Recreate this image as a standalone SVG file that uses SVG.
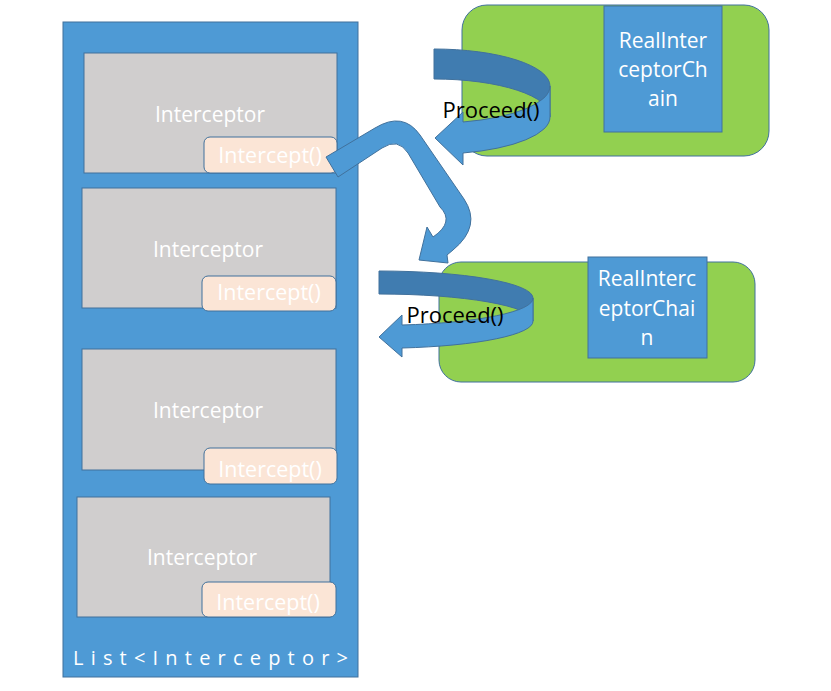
<svg xmlns="http://www.w3.org/2000/svg" width="831" height="691" viewBox="0 0 831 691">
<style>
.blue{fill:#4e9ad5;stroke:#41719c;stroke-width:1}
.back{fill:#407cb0;stroke:#41719c;stroke-width:1}
.gray{fill:#d0cece;stroke:#41719c;stroke-width:1}
.peach{fill:#fbe5d6;stroke:#41719c;stroke-width:1}
.green{fill:#92d050;stroke:#41719c;stroke-width:1}
text{font-family:"Open Sans","Liberation Sans",sans-serif;text-anchor:middle}
.t{fill:#ffffff;font-size:21px}
.ti{fill:#ffffff;font-size:21.5px}
.tl{fill:#ffffff;font-size:20px;text-anchor:start;letter-spacing:7.2px}
.tc{fill:#ffffff;font-size:21px}
.tp{fill:#000000;font-size:22px}
</style>
<rect width="831" height="691" fill="#ffffff"/>
<g id="interceptor-list">
<rect class="blue" x="63" y="22" width="295" height="655"/>
<text class="tl" x="73" y="665">List&lt;Interceptor&gt;</text>
</g>
<g id="interceptor-1">
<rect class="gray" x="84" y="53" width="253" height="120"/>
<text class="t" x="210" y="122">Interceptor</text>
<rect class="peach" x="204" y="137" width="133" height="36" rx="6"/>
<text class="ti" x="270" y="163">Intercept()</text>
</g>
<g id="interceptor-2">
<rect class="gray" x="82" y="188" width="254" height="120"/>
<text class="t" x="208" y="257">Interceptor</text>
<rect class="peach" x="202" y="276" width="134" height="35" rx="6"/>
<text class="ti" x="269" y="300">Intercept()</text>
</g>
<g id="interceptor-3">
<rect class="gray" x="82" y="349" width="254" height="121"/>
<text class="t" x="208" y="418">Interceptor</text>
<rect class="peach" x="204" y="448" width="133" height="36" rx="6"/>
<text class="ti" x="270" y="477">Intercept()</text>
</g>
<g id="interceptor-4">
<rect class="gray" x="77" y="497" width="253" height="120"/>
<text class="t" x="202" y="565">Interceptor</text>
<rect class="peach" x="202" y="582" width="134" height="35" rx="6"/>
<text class="ti" x="268" y="610">Intercept()</text>
</g>
<g id="chain-1">
<rect class="green" x="462" y="5" width="307" height="151" rx="25"/>
<rect class="blue" x="604" y="6" width="118" height="126"/>
<text class="tc" x="663" y="48">RealInter</text>
<text class="tc" x="663" y="77">ceptorCh</text>
<text class="tc" x="663" y="106">ain</text>
</g>
<g id="chain-2">
<rect class="green" x="439" y="262" width="316" height="120" rx="22"/>
<rect class="blue" x="588" y="257" width="119" height="101"/>
<text class="tc" x="647" y="286">RealInterc</text>
<text class="tc" x="647" y="316">eptorChai</text>
<text class="tc" x="647" y="345">n</text>
</g>
<g id="connectors">
<path class="back" d="M434,49 A116,37 0 0 1 550,86 L550,117 A116,37 0 0 0 434,79 Z"/>
<path class="blue" d="M550,86 A116,37 0 0 1 463,122 L463,112 L435,138 L463,165 L463,153 A116,37 0 0 0 550,117 Z"/>
<path class="blue" d="M326,157 L375,128 Q403,111 420,135 L464,199 Q482,226 453,250 L447,255 L448,263 L419,260 L427,227 L433,237 Q455,222 440,207 L408,153 Q398,137.5 382,148 L338,177 Z"/>
<path class="back" d="M379,271 A154,27 0 0 1 533,298 L533,321 A154,27 0 0 0 379,294 Z"/>
<path class="blue" d="M533,298 A154,27 0 0 1 402,325 L402,315 L379,337 L402,357 L402,348 A154,27 0 0 0 533,321 Z"/>
<text class="tp" x="491" y="118">Proceed()</text>
<text class="tp" x="455" y="323">Proceed()</text>
</g>
</svg>
